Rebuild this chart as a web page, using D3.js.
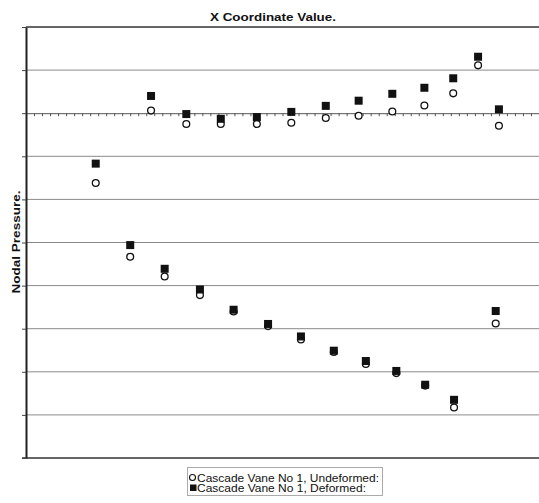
<!DOCTYPE html>
<html>
<head>
<meta charset="utf-8">
<script src="https://cdn.jsdelivr.net/npm/d3@7"></script>
<style>
  body { margin: 0; background: #fff; }
  text { font-family: "Liberation Sans", Arial, sans-serif; fill: #111; }
</style>
</head>
<body>
<svg id="chart" width="539" height="503"></svg>
<script>
// node x positions (lower surface, then upper surface)
const xNodes = [8.7, 13.0, 17.3, 21.7, 25.9, 30.2, 34.3, 38.4, 42.4, 46.2, 49.8, 53.4, 58.6,
                15.6, 20.0, 24.3, 28.8, 33.1, 37.4, 41.5, 45.7, 49.7, 53.3, 56.4, 59.0];
const undeformed = [-1.62, -3.33, -3.79, -4.22, -4.60, -4.94, -5.25, -5.54, -5.82, -6.03, -6.32, -6.83, -4.88,
                    0.06, -0.25, -0.25, -0.25, -0.22, -0.11, -0.06, 0.04, 0.18, 0.46, 1.11, -0.29];
const deformed = [-1.17, -3.06, -3.61, -4.09, -4.56, -4.89, -5.18, -5.51, -5.75, -5.98, -6.30, -6.65, -4.59,
                  0.40, -0.02, -0.13, -0.09, 0.03, 0.17, 0.29, 0.45, 0.59, 0.81, 1.31, 0.09];
const yTicks = d3.range(-8, 3, 1);
const xTicks = d3.range(0, 65, 1);
const seriesNames = ['Cascade Vane No 1, Undeformed:', 'Cascade Vane No 1, Deformed:'];

const svg = d3.select('#chart');
const x = d3.scaleLinear().domain([0, 64]).range([26, 539]);
const y = d3.scaleLinear().domain([-8, 2]).range([458, 27]);

// gridlines
svg.append('g')
  .selectAll('line')
  .data(yTicks.filter(d => d > -8 && d < 2 && d !== 0))
  .join('line')
  .attr('x1', x(0)).attr('x2', 539)
  .attr('y1', d => y(d)).attr('y2', d => y(d))
  .attr('stroke', '#8a8a8a').attr('stroke-width', 1);

// top and bottom frame lines
svg.append('line')
  .attr('x1', x(0)).attr('x2', 539).attr('y1', y(2)).attr('y2', y(2))
  .attr('stroke', '#333').attr('stroke-width', 1.5);
svg.append('line')
  .attr('x1', x(0) - 4).attr('x2', 539).attr('y1', y(-8)).attr('y2', y(-8))
  .attr('stroke', '#666').attr('stroke-width', 2);

// x axis through zero
const xAxis = svg.append('g')
  .attr('transform', `translate(0,${y(0)})`)
  .call(d3.axisBottom(x).tickValues(xTicks).tickSize(3).tickFormat(''));
xAxis.select('.domain').attr('stroke', '#555');
xAxis.selectAll('.tick line').attr('stroke', '#555');

// y axis
const yAxis = svg.append('g')
  .attr('transform', `translate(${x(0)},0)`)
  .call(d3.axisLeft(y).tickValues(yTicks).tickSize(4).tickSizeOuter(0).tickFormat(''));
yAxis.select('.domain').attr('stroke', '#222').attr('stroke-width', 2);
yAxis.selectAll('.tick line').attr('stroke', '#444');

// titles
svg.append('text')
  .attr('x', 273).attr('y', 21)
  .attr('text-anchor', 'middle')
  .attr('font-size', 11.5).attr('font-weight', 'bold')
  .attr('textLength', 126).attr('lengthAdjust', 'spacingAndGlyphs')
  .text('X Coordinate Value.');
svg.append('text')
  .attr('transform', 'translate(20,242) rotate(-90)')
  .attr('text-anchor', 'middle')
  .attr('font-size', 11.5).attr('font-weight', 'bold')
  .attr('textLength', 103).attr('lengthAdjust', 'spacingAndGlyphs')
  .text('Nodal Pressure.');

// markers
svg.append('g')
  .selectAll('circle')
  .data(undeformed)
  .join('circle')
  .attr('cx', (d, i) => x(xNodes[i]))
  .attr('cy', d => y(d))
  .attr('r', 3.4)
  .attr('fill', '#fff').attr('stroke', '#111').attr('stroke-width', 1.3);

svg.append('g')
  .selectAll('rect')
  .data(deformed)
  .join('rect')
  .attr('x', (d, i) => x(xNodes[i]) - 4)
  .attr('y', d => y(d) - 4)
  .attr('width', 8).attr('height', 8)
  .attr('fill', '#111');

// legend
const legend = svg.append('g');
legend.append('rect')
  .attr('x', 187.5).attr('y', 467.5).attr('width', 195).attr('height', 28)
  .attr('fill', '#fff').attr('stroke', '#aaa');
legend.append('circle')
  .attr('cx', 192.5).attr('cy', 477.5).attr('r', 3)
  .attr('fill', '#fff').attr('stroke', '#111').attr('stroke-width', 1.1);
legend.append('rect')
  .attr('x', 190).attr('y', 484.5).attr('width', 6.5).attr('height', 6.5)
  .attr('fill', '#111');
legend.selectAll('text.lbl')
  .data(seriesNames)
  .join('text')
  .attr('class', 'lbl')
  .attr('x', 197)
  .attr('y', (d, i) => 481.5 + i * 10.5)
  .attr('font-size', 10.5)
  .attr('textLength', (d, i) => i === 0 ? 182 : 169)
  .attr('lengthAdjust', 'spacingAndGlyphs')
  .text(d => d);
</script>
</body>
</html>
